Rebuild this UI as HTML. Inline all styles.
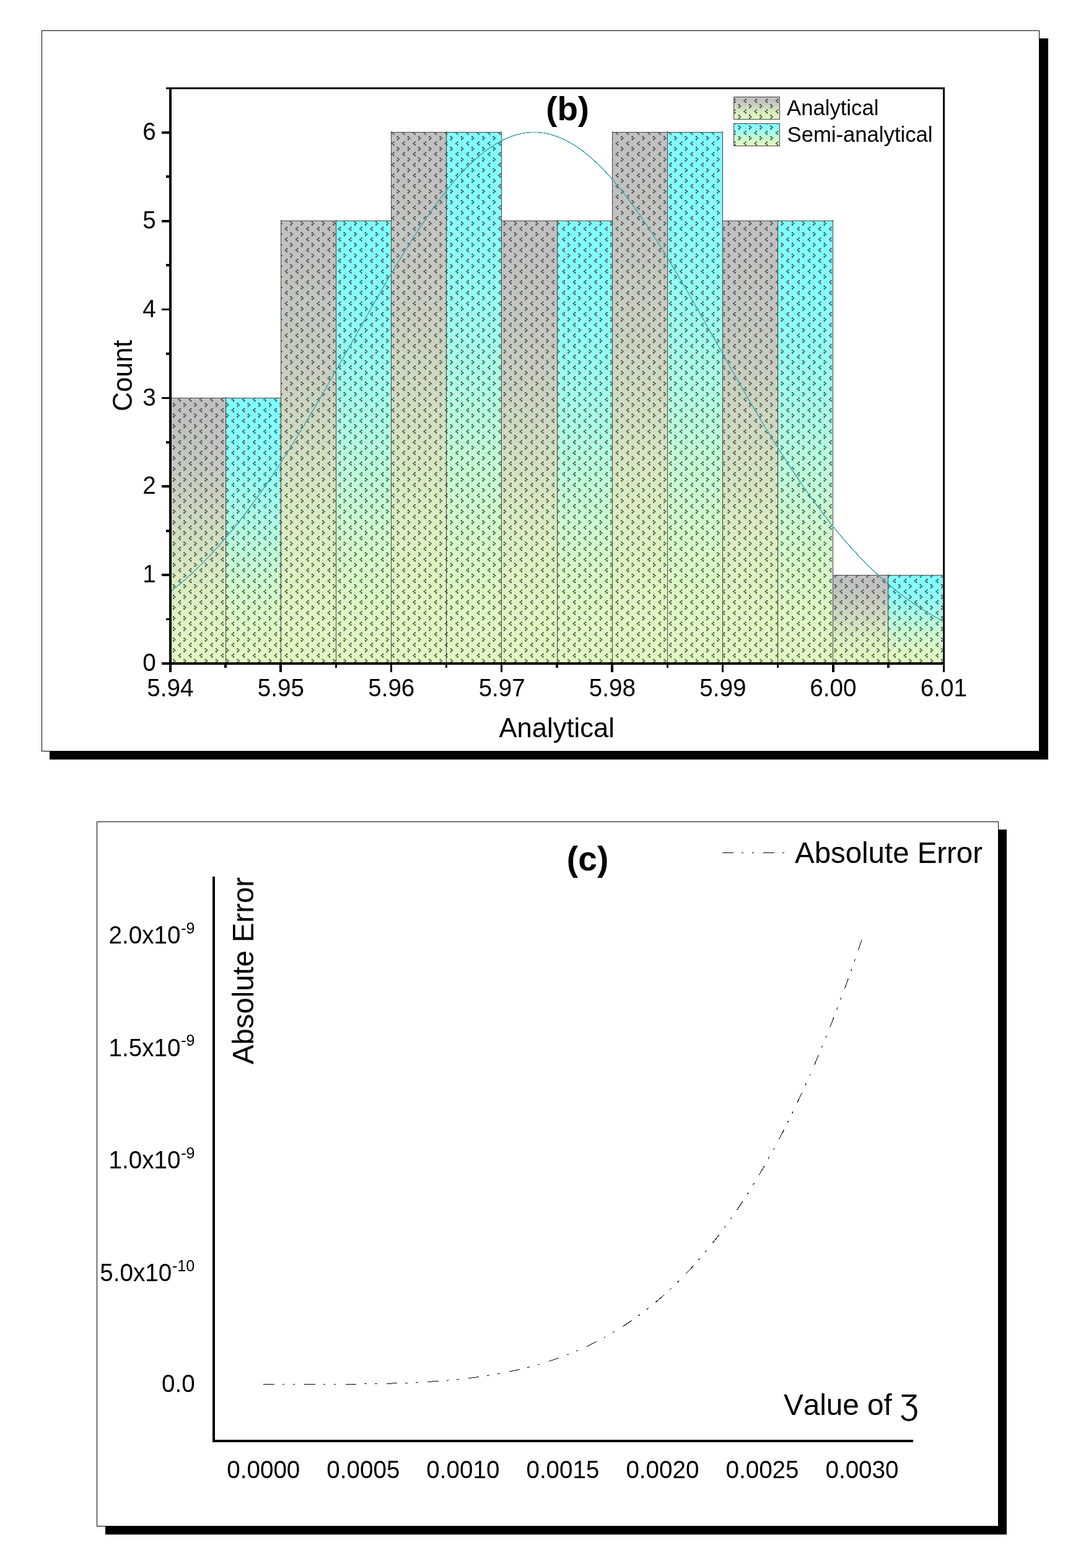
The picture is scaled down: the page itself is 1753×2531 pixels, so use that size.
<!DOCTYPE html>
<html lang="en"><head><meta charset="utf-8"><title>Histogram (b) and Absolute Error (c)</title>
<style>html,body{margin:0;padding:0;background:#fff;}body{width:1753px;height:2531px;overflow:hidden;}svg{display:block;}text{font-family:"Liberation Sans", Arial, sans-serif;fill:#000;font-kerning:none;}</style>
</head><body>
<svg width="1753" height="2531" viewBox="0 0 1753 2531">
<defs>
<linearGradient id="gG" x1="0" y1="0" x2="0" y2="1">
<stop offset="0.0000" stop-color="#c0c0c0"/>
<stop offset="0.0625" stop-color="#c0c1c0"/>
<stop offset="0.1250" stop-color="#c1c2c0"/>
<stop offset="0.1875" stop-color="#c3c5c0"/>
<stop offset="0.2500" stop-color="#c5c8c0"/>
<stop offset="0.3125" stop-color="#c7ccc0"/>
<stop offset="0.3750" stop-color="#cad1c0"/>
<stop offset="0.4375" stop-color="#cdd7c0"/>
<stop offset="0.5000" stop-color="#d0dcc0"/>
<stop offset="0.5625" stop-color="#d3e1c0"/>
<stop offset="0.6250" stop-color="#d6e7c0"/>
<stop offset="0.6875" stop-color="#d9ecc0"/>
<stop offset="0.7500" stop-color="#dbf0c0"/>
<stop offset="0.8125" stop-color="#ddf3c0"/>
<stop offset="0.8750" stop-color="#dff6c0"/>
<stop offset="0.9375" stop-color="#e0f7c0"/>
<stop offset="1.0000" stop-color="#e0f8c0"/>
</linearGradient>
<linearGradient id="gC" x1="0" y1="0" x2="0" y2="1">
<stop offset="0.0000" stop-color="#80ffff"/>
<stop offset="0.0625" stop-color="#81fffe"/>
<stop offset="0.1250" stop-color="#84fffd"/>
<stop offset="0.1875" stop-color="#88fefa"/>
<stop offset="0.2500" stop-color="#8efef6"/>
<stop offset="0.3125" stop-color="#95fdf1"/>
<stop offset="0.3750" stop-color="#9efdec"/>
<stop offset="0.4375" stop-color="#a7fce6"/>
<stop offset="0.5000" stop-color="#b0fce0"/>
<stop offset="0.5625" stop-color="#b9fbd9"/>
<stop offset="0.6250" stop-color="#c2fad3"/>
<stop offset="0.6875" stop-color="#cbface"/>
<stop offset="0.7500" stop-color="#d2f9c9"/>
<stop offset="0.8125" stop-color="#d8f9c5"/>
<stop offset="0.8750" stop-color="#dcf8c2"/>
<stop offset="0.9375" stop-color="#dff8c1"/>
<stop offset="1.0000" stop-color="#e0f8c0"/>
</linearGradient>
<pattern id="pat" x="279" y="1012" width="155" height="155" patternUnits="userSpaceOnUse">
<path fill="#38383c" d="M0.00 0.00h2.15v2.15h-2.15zM2.15 2.15h2.15v2.15h-2.15zM0.00 4.31h2.15v2.15h-2.15zM10.76 8.61h2.15v2.15h-2.15zM8.61 10.76h2.15v2.15h-2.15zM10.76 12.92h2.15v2.15h-2.15zM17.22 0.00h2.15v2.15h-2.15zM19.38 2.15h2.15v2.15h-2.15zM17.22 4.31h2.15v2.15h-2.15zM27.99 8.61h2.15v2.15h-2.15zM25.83 10.76h2.15v2.15h-2.15zM27.99 12.92h2.15v2.15h-2.15zM34.44 0.00h2.15v2.15h-2.15zM36.60 2.15h2.15v2.15h-2.15zM34.44 4.31h2.15v2.15h-2.15zM45.21 8.61h2.15v2.15h-2.15zM43.06 10.76h2.15v2.15h-2.15zM45.21 12.92h2.15v2.15h-2.15zM51.67 0.00h2.15v2.15h-2.15zM53.82 2.15h2.15v2.15h-2.15zM51.67 4.31h2.15v2.15h-2.15zM62.43 8.61h2.15v2.15h-2.15zM60.28 10.76h2.15v2.15h-2.15zM62.43 12.92h2.15v2.15h-2.15zM68.89 0.00h2.15v2.15h-2.15zM71.04 2.15h2.15v2.15h-2.15zM68.89 4.31h2.15v2.15h-2.15zM79.65 8.61h2.15v2.15h-2.15zM77.50 10.76h2.15v2.15h-2.15zM79.65 12.92h2.15v2.15h-2.15zM86.11 0.00h2.15v2.15h-2.15zM88.26 2.15h2.15v2.15h-2.15zM86.11 4.31h2.15v2.15h-2.15zM96.88 8.61h2.15v2.15h-2.15zM94.72 10.76h2.15v2.15h-2.15zM96.88 12.92h2.15v2.15h-2.15zM103.33 0.00h2.15v2.15h-2.15zM105.49 2.15h2.15v2.15h-2.15zM103.33 4.31h2.15v2.15h-2.15zM114.10 8.61h2.15v2.15h-2.15zM111.94 10.76h2.15v2.15h-2.15zM114.10 12.92h2.15v2.15h-2.15zM120.56 0.00h2.15v2.15h-2.15zM122.71 2.15h2.15v2.15h-2.15zM120.56 4.31h2.15v2.15h-2.15zM131.32 8.61h2.15v2.15h-2.15zM129.17 10.76h2.15v2.15h-2.15zM131.32 12.92h2.15v2.15h-2.15zM137.78 0.00h2.15v2.15h-2.15zM139.93 2.15h2.15v2.15h-2.15zM137.78 4.31h2.15v2.15h-2.15zM148.54 8.61h2.15v2.15h-2.15zM146.39 10.76h2.15v2.15h-2.15zM148.54 12.92h2.15v2.15h-2.15zM0.00 17.22h2.15v2.15h-2.15zM2.15 19.38h2.15v2.15h-2.15zM0.00 21.53h2.15v2.15h-2.15zM10.76 25.83h2.15v2.15h-2.15zM8.61 27.99h2.15v2.15h-2.15zM10.76 30.14h2.15v2.15h-2.15zM17.22 17.22h2.15v2.15h-2.15zM19.38 19.38h2.15v2.15h-2.15zM17.22 21.53h2.15v2.15h-2.15zM27.99 25.83h2.15v2.15h-2.15zM25.83 27.99h2.15v2.15h-2.15zM27.99 30.14h2.15v2.15h-2.15zM34.44 17.22h2.15v2.15h-2.15zM36.60 19.38h2.15v2.15h-2.15zM34.44 21.53h2.15v2.15h-2.15zM45.21 25.83h2.15v2.15h-2.15zM43.06 27.99h2.15v2.15h-2.15zM45.21 30.14h2.15v2.15h-2.15zM51.67 17.22h2.15v2.15h-2.15zM53.82 19.38h2.15v2.15h-2.15zM51.67 21.53h2.15v2.15h-2.15zM62.43 25.83h2.15v2.15h-2.15zM60.28 27.99h2.15v2.15h-2.15zM62.43 30.14h2.15v2.15h-2.15zM68.89 17.22h2.15v2.15h-2.15zM71.04 19.38h2.15v2.15h-2.15zM68.89 21.53h2.15v2.15h-2.15zM79.65 25.83h2.15v2.15h-2.15zM77.50 27.99h2.15v2.15h-2.15zM79.65 30.14h2.15v2.15h-2.15zM86.11 17.22h2.15v2.15h-2.15zM88.26 19.38h2.15v2.15h-2.15zM86.11 21.53h2.15v2.15h-2.15zM96.88 25.83h2.15v2.15h-2.15zM94.72 27.99h2.15v2.15h-2.15zM96.88 30.14h2.15v2.15h-2.15zM103.33 17.22h2.15v2.15h-2.15zM105.49 19.38h2.15v2.15h-2.15zM103.33 21.53h2.15v2.15h-2.15zM114.10 25.83h2.15v2.15h-2.15zM111.94 27.99h2.15v2.15h-2.15zM114.10 30.14h2.15v2.15h-2.15zM120.56 17.22h2.15v2.15h-2.15zM122.71 19.38h2.15v2.15h-2.15zM120.56 21.53h2.15v2.15h-2.15zM131.32 25.83h2.15v2.15h-2.15zM129.17 27.99h2.15v2.15h-2.15zM131.32 30.14h2.15v2.15h-2.15zM137.78 17.22h2.15v2.15h-2.15zM139.93 19.38h2.15v2.15h-2.15zM137.78 21.53h2.15v2.15h-2.15zM148.54 25.83h2.15v2.15h-2.15zM146.39 27.99h2.15v2.15h-2.15zM148.54 30.14h2.15v2.15h-2.15zM0.00 34.44h2.15v2.15h-2.15zM2.15 36.60h2.15v2.15h-2.15zM0.00 38.75h2.15v2.15h-2.15zM10.76 43.06h2.15v2.15h-2.15zM8.61 45.21h2.15v2.15h-2.15zM10.76 47.36h2.15v2.15h-2.15zM17.22 34.44h2.15v2.15h-2.15zM19.38 36.60h2.15v2.15h-2.15zM17.22 38.75h2.15v2.15h-2.15zM27.99 43.06h2.15v2.15h-2.15zM25.83 45.21h2.15v2.15h-2.15zM27.99 47.36h2.15v2.15h-2.15zM34.44 34.44h2.15v2.15h-2.15zM36.60 36.60h2.15v2.15h-2.15zM34.44 38.75h2.15v2.15h-2.15zM45.21 43.06h2.15v2.15h-2.15zM43.06 45.21h2.15v2.15h-2.15zM45.21 47.36h2.15v2.15h-2.15zM51.67 34.44h2.15v2.15h-2.15zM53.82 36.60h2.15v2.15h-2.15zM51.67 38.75h2.15v2.15h-2.15zM62.43 43.06h2.15v2.15h-2.15zM60.28 45.21h2.15v2.15h-2.15zM62.43 47.36h2.15v2.15h-2.15zM68.89 34.44h2.15v2.15h-2.15zM71.04 36.60h2.15v2.15h-2.15zM68.89 38.75h2.15v2.15h-2.15zM79.65 43.06h2.15v2.15h-2.15zM77.50 45.21h2.15v2.15h-2.15zM79.65 47.36h2.15v2.15h-2.15zM86.11 34.44h2.15v2.15h-2.15zM88.26 36.60h2.15v2.15h-2.15zM86.11 38.75h2.15v2.15h-2.15zM96.88 43.06h2.15v2.15h-2.15zM94.72 45.21h2.15v2.15h-2.15zM96.88 47.36h2.15v2.15h-2.15zM103.33 34.44h2.15v2.15h-2.15zM105.49 36.60h2.15v2.15h-2.15zM103.33 38.75h2.15v2.15h-2.15zM114.10 43.06h2.15v2.15h-2.15zM111.94 45.21h2.15v2.15h-2.15zM114.10 47.36h2.15v2.15h-2.15zM120.56 34.44h2.15v2.15h-2.15zM122.71 36.60h2.15v2.15h-2.15zM120.56 38.75h2.15v2.15h-2.15zM131.32 43.06h2.15v2.15h-2.15zM129.17 45.21h2.15v2.15h-2.15zM131.32 47.36h2.15v2.15h-2.15zM137.78 34.44h2.15v2.15h-2.15zM139.93 36.60h2.15v2.15h-2.15zM137.78 38.75h2.15v2.15h-2.15zM148.54 43.06h2.15v2.15h-2.15zM146.39 45.21h2.15v2.15h-2.15zM148.54 47.36h2.15v2.15h-2.15zM0.00 51.67h2.15v2.15h-2.15zM2.15 53.82h2.15v2.15h-2.15zM0.00 55.97h2.15v2.15h-2.15zM10.76 60.28h2.15v2.15h-2.15zM8.61 62.43h2.15v2.15h-2.15zM10.76 64.58h2.15v2.15h-2.15zM17.22 51.67h2.15v2.15h-2.15zM19.38 53.82h2.15v2.15h-2.15zM17.22 55.97h2.15v2.15h-2.15zM27.99 60.28h2.15v2.15h-2.15zM25.83 62.43h2.15v2.15h-2.15zM27.99 64.58h2.15v2.15h-2.15zM34.44 51.67h2.15v2.15h-2.15zM36.60 53.82h2.15v2.15h-2.15zM34.44 55.97h2.15v2.15h-2.15zM45.21 60.28h2.15v2.15h-2.15zM43.06 62.43h2.15v2.15h-2.15zM45.21 64.58h2.15v2.15h-2.15zM51.67 51.67h2.15v2.15h-2.15zM53.82 53.82h2.15v2.15h-2.15zM51.67 55.97h2.15v2.15h-2.15zM62.43 60.28h2.15v2.15h-2.15zM60.28 62.43h2.15v2.15h-2.15zM62.43 64.58h2.15v2.15h-2.15zM68.89 51.67h2.15v2.15h-2.15zM71.04 53.82h2.15v2.15h-2.15zM68.89 55.97h2.15v2.15h-2.15zM79.65 60.28h2.15v2.15h-2.15zM77.50 62.43h2.15v2.15h-2.15zM79.65 64.58h2.15v2.15h-2.15zM86.11 51.67h2.15v2.15h-2.15zM88.26 53.82h2.15v2.15h-2.15zM86.11 55.97h2.15v2.15h-2.15zM96.88 60.28h2.15v2.15h-2.15zM94.72 62.43h2.15v2.15h-2.15zM96.88 64.58h2.15v2.15h-2.15zM103.33 51.67h2.15v2.15h-2.15zM105.49 53.82h2.15v2.15h-2.15zM103.33 55.97h2.15v2.15h-2.15zM114.10 60.28h2.15v2.15h-2.15zM111.94 62.43h2.15v2.15h-2.15zM114.10 64.58h2.15v2.15h-2.15zM120.56 51.67h2.15v2.15h-2.15zM122.71 53.82h2.15v2.15h-2.15zM120.56 55.97h2.15v2.15h-2.15zM131.32 60.28h2.15v2.15h-2.15zM129.17 62.43h2.15v2.15h-2.15zM131.32 64.58h2.15v2.15h-2.15zM137.78 51.67h2.15v2.15h-2.15zM139.93 53.82h2.15v2.15h-2.15zM137.78 55.97h2.15v2.15h-2.15zM148.54 60.28h2.15v2.15h-2.15zM146.39 62.43h2.15v2.15h-2.15zM148.54 64.58h2.15v2.15h-2.15zM0.00 68.89h2.15v2.15h-2.15zM2.15 71.04h2.15v2.15h-2.15zM0.00 73.19h2.15v2.15h-2.15zM10.76 77.50h2.15v2.15h-2.15zM8.61 79.65h2.15v2.15h-2.15zM10.76 81.81h2.15v2.15h-2.15zM17.22 68.89h2.15v2.15h-2.15zM19.38 71.04h2.15v2.15h-2.15zM17.22 73.19h2.15v2.15h-2.15zM27.99 77.50h2.15v2.15h-2.15zM25.83 79.65h2.15v2.15h-2.15zM27.99 81.81h2.15v2.15h-2.15zM34.44 68.89h2.15v2.15h-2.15zM36.60 71.04h2.15v2.15h-2.15zM34.44 73.19h2.15v2.15h-2.15zM45.21 77.50h2.15v2.15h-2.15zM43.06 79.65h2.15v2.15h-2.15zM45.21 81.81h2.15v2.15h-2.15zM51.67 68.89h2.15v2.15h-2.15zM53.82 71.04h2.15v2.15h-2.15zM51.67 73.19h2.15v2.15h-2.15zM62.43 77.50h2.15v2.15h-2.15zM60.28 79.65h2.15v2.15h-2.15zM62.43 81.81h2.15v2.15h-2.15zM68.89 68.89h2.15v2.15h-2.15zM71.04 71.04h2.15v2.15h-2.15zM68.89 73.19h2.15v2.15h-2.15zM79.65 77.50h2.15v2.15h-2.15zM77.50 79.65h2.15v2.15h-2.15zM79.65 81.81h2.15v2.15h-2.15zM86.11 68.89h2.15v2.15h-2.15zM88.26 71.04h2.15v2.15h-2.15zM86.11 73.19h2.15v2.15h-2.15zM96.88 77.50h2.15v2.15h-2.15zM94.72 79.65h2.15v2.15h-2.15zM96.88 81.81h2.15v2.15h-2.15zM103.33 68.89h2.15v2.15h-2.15zM105.49 71.04h2.15v2.15h-2.15zM103.33 73.19h2.15v2.15h-2.15zM114.10 77.50h2.15v2.15h-2.15zM111.94 79.65h2.15v2.15h-2.15zM114.10 81.81h2.15v2.15h-2.15zM120.56 68.89h2.15v2.15h-2.15zM122.71 71.04h2.15v2.15h-2.15zM120.56 73.19h2.15v2.15h-2.15zM131.32 77.50h2.15v2.15h-2.15zM129.17 79.65h2.15v2.15h-2.15zM131.32 81.81h2.15v2.15h-2.15zM137.78 68.89h2.15v2.15h-2.15zM139.93 71.04h2.15v2.15h-2.15zM137.78 73.19h2.15v2.15h-2.15zM148.54 77.50h2.15v2.15h-2.15zM146.39 79.65h2.15v2.15h-2.15zM148.54 81.81h2.15v2.15h-2.15zM0.00 86.11h2.15v2.15h-2.15zM2.15 88.26h2.15v2.15h-2.15zM0.00 90.42h2.15v2.15h-2.15zM10.76 94.72h2.15v2.15h-2.15zM8.61 96.88h2.15v2.15h-2.15zM10.76 99.03h2.15v2.15h-2.15zM17.22 86.11h2.15v2.15h-2.15zM19.38 88.26h2.15v2.15h-2.15zM17.22 90.42h2.15v2.15h-2.15zM27.99 94.72h2.15v2.15h-2.15zM25.83 96.88h2.15v2.15h-2.15zM27.99 99.03h2.15v2.15h-2.15zM34.44 86.11h2.15v2.15h-2.15zM36.60 88.26h2.15v2.15h-2.15zM34.44 90.42h2.15v2.15h-2.15zM45.21 94.72h2.15v2.15h-2.15zM43.06 96.88h2.15v2.15h-2.15zM45.21 99.03h2.15v2.15h-2.15zM51.67 86.11h2.15v2.15h-2.15zM53.82 88.26h2.15v2.15h-2.15zM51.67 90.42h2.15v2.15h-2.15zM62.43 94.72h2.15v2.15h-2.15zM60.28 96.88h2.15v2.15h-2.15zM62.43 99.03h2.15v2.15h-2.15zM68.89 86.11h2.15v2.15h-2.15zM71.04 88.26h2.15v2.15h-2.15zM68.89 90.42h2.15v2.15h-2.15zM79.65 94.72h2.15v2.15h-2.15zM77.50 96.88h2.15v2.15h-2.15zM79.65 99.03h2.15v2.15h-2.15zM86.11 86.11h2.15v2.15h-2.15zM88.26 88.26h2.15v2.15h-2.15zM86.11 90.42h2.15v2.15h-2.15zM96.88 94.72h2.15v2.15h-2.15zM94.72 96.88h2.15v2.15h-2.15zM96.88 99.03h2.15v2.15h-2.15zM103.33 86.11h2.15v2.15h-2.15zM105.49 88.26h2.15v2.15h-2.15zM103.33 90.42h2.15v2.15h-2.15zM114.10 94.72h2.15v2.15h-2.15zM111.94 96.88h2.15v2.15h-2.15zM114.10 99.03h2.15v2.15h-2.15zM120.56 86.11h2.15v2.15h-2.15zM122.71 88.26h2.15v2.15h-2.15zM120.56 90.42h2.15v2.15h-2.15zM131.32 94.72h2.15v2.15h-2.15zM129.17 96.88h2.15v2.15h-2.15zM131.32 99.03h2.15v2.15h-2.15zM137.78 86.11h2.15v2.15h-2.15zM139.93 88.26h2.15v2.15h-2.15zM137.78 90.42h2.15v2.15h-2.15zM148.54 94.72h2.15v2.15h-2.15zM146.39 96.88h2.15v2.15h-2.15zM148.54 99.03h2.15v2.15h-2.15zM0.00 103.33h2.15v2.15h-2.15zM2.15 105.49h2.15v2.15h-2.15zM0.00 107.64h2.15v2.15h-2.15zM10.76 111.94h2.15v2.15h-2.15zM8.61 114.10h2.15v2.15h-2.15zM10.76 116.25h2.15v2.15h-2.15zM17.22 103.33h2.15v2.15h-2.15zM19.38 105.49h2.15v2.15h-2.15zM17.22 107.64h2.15v2.15h-2.15zM27.99 111.94h2.15v2.15h-2.15zM25.83 114.10h2.15v2.15h-2.15zM27.99 116.25h2.15v2.15h-2.15zM34.44 103.33h2.15v2.15h-2.15zM36.60 105.49h2.15v2.15h-2.15zM34.44 107.64h2.15v2.15h-2.15zM45.21 111.94h2.15v2.15h-2.15zM43.06 114.10h2.15v2.15h-2.15zM45.21 116.25h2.15v2.15h-2.15zM51.67 103.33h2.15v2.15h-2.15zM53.82 105.49h2.15v2.15h-2.15zM51.67 107.64h2.15v2.15h-2.15zM62.43 111.94h2.15v2.15h-2.15zM60.28 114.10h2.15v2.15h-2.15zM62.43 116.25h2.15v2.15h-2.15zM68.89 103.33h2.15v2.15h-2.15zM71.04 105.49h2.15v2.15h-2.15zM68.89 107.64h2.15v2.15h-2.15zM79.65 111.94h2.15v2.15h-2.15zM77.50 114.10h2.15v2.15h-2.15zM79.65 116.25h2.15v2.15h-2.15zM86.11 103.33h2.15v2.15h-2.15zM88.26 105.49h2.15v2.15h-2.15zM86.11 107.64h2.15v2.15h-2.15zM96.88 111.94h2.15v2.15h-2.15zM94.72 114.10h2.15v2.15h-2.15zM96.88 116.25h2.15v2.15h-2.15zM103.33 103.33h2.15v2.15h-2.15zM105.49 105.49h2.15v2.15h-2.15zM103.33 107.64h2.15v2.15h-2.15zM114.10 111.94h2.15v2.15h-2.15zM111.94 114.10h2.15v2.15h-2.15zM114.10 116.25h2.15v2.15h-2.15zM120.56 103.33h2.15v2.15h-2.15zM122.71 105.49h2.15v2.15h-2.15zM120.56 107.64h2.15v2.15h-2.15zM131.32 111.94h2.15v2.15h-2.15zM129.17 114.10h2.15v2.15h-2.15zM131.32 116.25h2.15v2.15h-2.15zM137.78 103.33h2.15v2.15h-2.15zM139.93 105.49h2.15v2.15h-2.15zM137.78 107.64h2.15v2.15h-2.15zM148.54 111.94h2.15v2.15h-2.15zM146.39 114.10h2.15v2.15h-2.15zM148.54 116.25h2.15v2.15h-2.15zM0.00 120.56h2.15v2.15h-2.15zM2.15 122.71h2.15v2.15h-2.15zM0.00 124.86h2.15v2.15h-2.15zM10.76 129.17h2.15v2.15h-2.15zM8.61 131.32h2.15v2.15h-2.15zM10.76 133.47h2.15v2.15h-2.15zM17.22 120.56h2.15v2.15h-2.15zM19.38 122.71h2.15v2.15h-2.15zM17.22 124.86h2.15v2.15h-2.15zM27.99 129.17h2.15v2.15h-2.15zM25.83 131.32h2.15v2.15h-2.15zM27.99 133.47h2.15v2.15h-2.15zM34.44 120.56h2.15v2.15h-2.15zM36.60 122.71h2.15v2.15h-2.15zM34.44 124.86h2.15v2.15h-2.15zM45.21 129.17h2.15v2.15h-2.15zM43.06 131.32h2.15v2.15h-2.15zM45.21 133.47h2.15v2.15h-2.15zM51.67 120.56h2.15v2.15h-2.15zM53.82 122.71h2.15v2.15h-2.15zM51.67 124.86h2.15v2.15h-2.15zM62.43 129.17h2.15v2.15h-2.15zM60.28 131.32h2.15v2.15h-2.15zM62.43 133.47h2.15v2.15h-2.15zM68.89 120.56h2.15v2.15h-2.15zM71.04 122.71h2.15v2.15h-2.15zM68.89 124.86h2.15v2.15h-2.15zM79.65 129.17h2.15v2.15h-2.15zM77.50 131.32h2.15v2.15h-2.15zM79.65 133.47h2.15v2.15h-2.15zM86.11 120.56h2.15v2.15h-2.15zM88.26 122.71h2.15v2.15h-2.15zM86.11 124.86h2.15v2.15h-2.15zM96.88 129.17h2.15v2.15h-2.15zM94.72 131.32h2.15v2.15h-2.15zM96.88 133.47h2.15v2.15h-2.15zM103.33 120.56h2.15v2.15h-2.15zM105.49 122.71h2.15v2.15h-2.15zM103.33 124.86h2.15v2.15h-2.15zM114.10 129.17h2.15v2.15h-2.15zM111.94 131.32h2.15v2.15h-2.15zM114.10 133.47h2.15v2.15h-2.15zM120.56 120.56h2.15v2.15h-2.15zM122.71 122.71h2.15v2.15h-2.15zM120.56 124.86h2.15v2.15h-2.15zM131.32 129.17h2.15v2.15h-2.15zM129.17 131.32h2.15v2.15h-2.15zM131.32 133.47h2.15v2.15h-2.15zM137.78 120.56h2.15v2.15h-2.15zM139.93 122.71h2.15v2.15h-2.15zM137.78 124.86h2.15v2.15h-2.15zM148.54 129.17h2.15v2.15h-2.15zM146.39 131.32h2.15v2.15h-2.15zM148.54 133.47h2.15v2.15h-2.15zM0.00 137.78h2.15v2.15h-2.15zM2.15 139.93h2.15v2.15h-2.15zM0.00 142.08h2.15v2.15h-2.15zM10.76 146.39h2.15v2.15h-2.15zM8.61 148.54h2.15v2.15h-2.15zM10.76 150.69h2.15v2.15h-2.15zM17.22 137.78h2.15v2.15h-2.15zM19.38 139.93h2.15v2.15h-2.15zM17.22 142.08h2.15v2.15h-2.15zM27.99 146.39h2.15v2.15h-2.15zM25.83 148.54h2.15v2.15h-2.15zM27.99 150.69h2.15v2.15h-2.15zM34.44 137.78h2.15v2.15h-2.15zM36.60 139.93h2.15v2.15h-2.15zM34.44 142.08h2.15v2.15h-2.15zM45.21 146.39h2.15v2.15h-2.15zM43.06 148.54h2.15v2.15h-2.15zM45.21 150.69h2.15v2.15h-2.15zM51.67 137.78h2.15v2.15h-2.15zM53.82 139.93h2.15v2.15h-2.15zM51.67 142.08h2.15v2.15h-2.15zM62.43 146.39h2.15v2.15h-2.15zM60.28 148.54h2.15v2.15h-2.15zM62.43 150.69h2.15v2.15h-2.15zM68.89 137.78h2.15v2.15h-2.15zM71.04 139.93h2.15v2.15h-2.15zM68.89 142.08h2.15v2.15h-2.15zM79.65 146.39h2.15v2.15h-2.15zM77.50 148.54h2.15v2.15h-2.15zM79.65 150.69h2.15v2.15h-2.15zM86.11 137.78h2.15v2.15h-2.15zM88.26 139.93h2.15v2.15h-2.15zM86.11 142.08h2.15v2.15h-2.15zM96.88 146.39h2.15v2.15h-2.15zM94.72 148.54h2.15v2.15h-2.15zM96.88 150.69h2.15v2.15h-2.15zM103.33 137.78h2.15v2.15h-2.15zM105.49 139.93h2.15v2.15h-2.15zM103.33 142.08h2.15v2.15h-2.15zM114.10 146.39h2.15v2.15h-2.15zM111.94 148.54h2.15v2.15h-2.15zM114.10 150.69h2.15v2.15h-2.15zM120.56 137.78h2.15v2.15h-2.15zM122.71 139.93h2.15v2.15h-2.15zM120.56 142.08h2.15v2.15h-2.15zM131.32 146.39h2.15v2.15h-2.15zM129.17 148.54h2.15v2.15h-2.15zM131.32 150.69h2.15v2.15h-2.15zM137.78 137.78h2.15v2.15h-2.15zM139.93 139.93h2.15v2.15h-2.15zM137.78 142.08h2.15v2.15h-2.15zM148.54 146.39h2.15v2.15h-2.15zM146.39 148.54h2.15v2.15h-2.15zM148.54 150.69h2.15v2.15h-2.15z"/>
</pattern>
</defs>
<rect x="0" y="0" width="1753" height="2531" fill="#fff"/>
<rect x="80" y="62" width="1612" height="1164" fill="#000" shape-rendering="crispEdges"/>
<rect x="67.5" y="49.5" width="1610" height="1163" fill="#fff" stroke="#000" stroke-width="1" shape-rendering="crispEdges"/>
<rect x="170" y="1339" width="1455" height="1138" fill="#000" shape-rendering="crispEdges"/>
<rect x="156.5" y="1326.5" width="1455" height="1137" fill="#fff" stroke="#000" stroke-width="1" shape-rendering="crispEdges"/>
<g shape-rendering="crispEdges">
<rect x="275" y="642" width="89" height="428" fill="url(#gG)" />
<rect x="275" y="642" width="89" height="428" fill="url(#pat)" shape-rendering="auto"/>
<rect x="364" y="642" width="89" height="428" fill="url(#gC)" />
<rect x="364" y="642" width="89" height="428" fill="url(#pat)" shape-rendering="auto"/>
<rect x="453" y="356" width="89" height="714" fill="url(#gG)" />
<rect x="453" y="356" width="89" height="714" fill="url(#pat)" shape-rendering="auto"/>
<rect x="542" y="356" width="89" height="714" fill="url(#gC)" />
<rect x="542" y="356" width="89" height="714" fill="url(#pat)" shape-rendering="auto"/>
<rect x="631" y="213" width="89" height="857" fill="url(#gG)" />
<rect x="631" y="213" width="89" height="857" fill="url(#pat)" shape-rendering="auto"/>
<rect x="720" y="213" width="89" height="857" fill="url(#gC)" />
<rect x="720" y="213" width="89" height="857" fill="url(#pat)" shape-rendering="auto"/>
<rect x="809" y="356" width="90" height="714" fill="url(#gG)" />
<rect x="809" y="356" width="90" height="714" fill="url(#pat)" shape-rendering="auto"/>
<rect x="899" y="356" width="89" height="714" fill="url(#gC)" />
<rect x="899" y="356" width="89" height="714" fill="url(#pat)" shape-rendering="auto"/>
<rect x="988" y="213" width="89" height="857" fill="url(#gG)" />
<rect x="988" y="213" width="89" height="857" fill="url(#pat)" shape-rendering="auto"/>
<rect x="1077" y="213" width="89" height="857" fill="url(#gC)" />
<rect x="1077" y="213" width="89" height="857" fill="url(#pat)" shape-rendering="auto"/>
<rect x="1166" y="356" width="89" height="714" fill="url(#gG)" />
<rect x="1166" y="356" width="89" height="714" fill="url(#pat)" shape-rendering="auto"/>
<rect x="1255" y="356" width="89" height="714" fill="url(#gC)" />
<rect x="1255" y="356" width="89" height="714" fill="url(#pat)" shape-rendering="auto"/>
<rect x="1344" y="928" width="89" height="142" fill="url(#gG)" />
<rect x="1344" y="928" width="89" height="142" fill="url(#pat)" shape-rendering="auto"/>
<rect x="1433" y="928" width="90" height="142" fill="url(#gC)" />
<rect x="1433" y="928" width="90" height="142" fill="url(#pat)" shape-rendering="auto"/>
<rect x="275" y="642" width="90" height="1" fill="#444444" />
<rect x="275" y="641" width="1" height="429" fill="#444444" />
<rect x="364" y="641" width="1" height="429" fill="#444444" />
<rect x="364" y="642" width="90" height="1" fill="#444444" />
<rect x="364" y="641" width="1" height="429" fill="#444444" />
<rect x="453" y="641" width="1" height="429" fill="#444444" />
<rect x="453" y="356" width="90" height="1" fill="#444444" />
<rect x="453" y="355" width="1" height="715" fill="#444444" />
<rect x="542" y="355" width="1" height="715" fill="#444444" />
<rect x="542" y="356" width="90" height="1" fill="#444444" />
<rect x="542" y="355" width="1" height="715" fill="#444444" />
<rect x="631" y="355" width="1" height="715" fill="#444444" />
<rect x="631" y="213" width="90" height="1" fill="#444444" />
<rect x="631" y="212" width="1" height="858" fill="#444444" />
<rect x="720" y="212" width="1" height="858" fill="#444444" />
<rect x="720" y="213" width="90" height="1" fill="#444444" />
<rect x="720" y="212" width="1" height="858" fill="#444444" />
<rect x="809" y="212" width="1" height="858" fill="#444444" />
<rect x="809" y="356" width="91" height="1" fill="#444444" />
<rect x="809" y="355" width="1" height="715" fill="#444444" />
<rect x="899" y="355" width="1" height="715" fill="#444444" />
<rect x="899" y="356" width="90" height="1" fill="#444444" />
<rect x="899" y="355" width="1" height="715" fill="#444444" />
<rect x="988" y="355" width="1" height="715" fill="#444444" />
<rect x="988" y="213" width="90" height="1" fill="#444444" />
<rect x="988" y="212" width="1" height="858" fill="#444444" />
<rect x="1077" y="212" width="1" height="858" fill="#444444" />
<rect x="1077" y="213" width="90" height="1" fill="#444444" />
<rect x="1077" y="212" width="1" height="858" fill="#444444" />
<rect x="1166" y="212" width="1" height="858" fill="#444444" />
<rect x="1166" y="356" width="90" height="1" fill="#444444" />
<rect x="1166" y="355" width="1" height="715" fill="#444444" />
<rect x="1255" y="355" width="1" height="715" fill="#444444" />
<rect x="1255" y="356" width="90" height="1" fill="#444444" />
<rect x="1255" y="355" width="1" height="715" fill="#444444" />
<rect x="1344" y="355" width="1" height="715" fill="#444444" />
<rect x="1344" y="928" width="90" height="1" fill="#444444" />
<rect x="1344" y="927" width="1" height="143" fill="#444444" />
<rect x="1433" y="927" width="1" height="143" fill="#444444" />
<rect x="1433" y="928" width="91" height="1" fill="#444444" />
<rect x="1433" y="927" width="1" height="143" fill="#444444" />
<rect x="1523" y="927" width="1" height="143" fill="#444444" />
</g>
<polyline fill="none" stroke="#48aab0" stroke-width="1.5" shape-rendering="crispEdges" points="275.0,955.4 279.2,952.1 283.3,948.7 287.5,945.2 291.6,941.7 295.8,938.1 300.0,934.4 304.1,930.7 308.3,926.9 312.5,923.0 316.6,919.0 320.8,915.0 324.9,910.8 329.1,906.6 333.3,902.4 337.4,898.0 341.6,893.6 345.7,889.1 349.9,884.5 354.1,879.9 358.2,875.1 362.4,870.3 366.5,865.4 370.7,860.5 374.9,855.4 379.0,850.3 383.2,845.1 387.4,839.9 391.5,834.5 395.7,829.1 399.8,823.6 404.0,818.0 408.2,812.4 412.3,806.7 416.5,800.9 420.6,795.0 424.8,789.1 429.0,783.1 433.1,777.0 437.3,770.9 441.5,764.7 445.6,758.4 449.8,752.1 453.9,745.7 458.1,739.2 462.3,732.7 466.4,726.2 470.6,719.5 474.7,712.8 478.9,706.1 483.1,699.3 487.2,692.5 491.4,685.6 495.5,678.6 499.7,671.6 503.9,664.6 508.0,657.5 512.2,650.4 516.4,643.3 520.5,636.1 524.7,628.9 528.8,621.7 533.0,614.4 537.2,607.1 541.3,599.8 545.5,592.5 549.6,585.1 553.8,577.8 558.0,570.4 562.1,563.1 566.3,555.7 570.4,548.3 574.6,540.9 578.8,533.5 582.9,526.2 587.1,518.8 591.3,511.5 595.4,504.1 599.6,496.8 603.7,489.5 607.9,482.3 612.1,475.0 616.2,467.8 620.4,460.7 624.5,453.6 628.7,446.5 632.9,439.4 637.0,432.4 641.2,425.5 645.4,418.6 649.5,411.8 653.7,405.1 657.8,398.4 662.0,391.8 666.2,385.2 670.3,378.7 674.5,372.4 678.6,366.0 682.8,359.8 687.0,353.7 691.1,347.7 695.3,341.7 699.4,335.9 703.6,330.1 707.8,324.5 711.9,319.0 716.1,313.6 720.3,308.3 724.4,303.1 728.6,298.0 732.7,293.1 736.9,288.3 741.1,283.6 745.2,279.0 749.4,274.6 753.5,270.4 757.7,266.2 761.9,262.2 766.0,258.4 770.2,254.7 774.4,251.1 778.5,247.7 782.7,244.4 786.8,241.3 791.0,238.4 795.2,235.6 799.3,233.0 803.5,230.5 807.6,228.2 811.8,226.1 816.0,224.1 820.1,222.3 824.3,220.6 828.4,219.2 832.6,217.8 836.8,216.7 840.9,215.8 845.1,215.0 849.3,214.3 853.4,213.9 857.6,213.6 861.7,213.5 865.9,213.6 870.1,213.8 874.2,214.3 878.4,214.8 882.5,215.6 886.7,216.5 890.9,217.6 895.0,218.9 899.2,220.4 903.4,222.0 907.5,223.8 911.7,225.7 915.8,227.8 920.0,230.1 924.2,232.5 928.3,235.1 932.5,237.9 936.6,240.8 940.8,243.9 945.0,247.1 949.1,250.5 953.3,254.0 957.4,257.7 961.6,261.5 965.8,265.5 969.9,269.6 974.1,273.9 978.3,278.3 982.4,282.8 986.6,287.5 990.7,292.3 994.9,297.2 999.1,302.2 1003.2,307.4 1007.4,312.7 1011.5,318.0 1015.7,323.5 1019.9,329.2 1024.0,334.9 1028.2,340.7 1032.4,346.6 1036.5,352.7 1040.7,358.8 1044.8,365.0 1049.0,371.3 1053.2,377.6 1057.3,384.1 1061.5,390.6 1065.6,397.2 1069.8,403.9 1074.0,410.7 1078.1,417.5 1082.3,424.3 1086.4,431.3 1090.6,438.2 1094.8,445.3 1098.9,452.3 1103.1,459.5 1107.3,466.6 1111.4,473.8 1115.6,481.0 1119.7,488.3 1123.9,495.6 1128.1,502.9 1132.2,510.2 1136.4,517.5 1140.5,524.9 1144.7,532.3 1148.9,539.6 1153.0,547.0 1157.2,554.4 1161.3,561.8 1165.5,569.2 1169.7,576.5 1173.8,583.9 1178.0,591.2 1182.2,598.6 1186.3,605.9 1190.5,613.2 1194.6,620.4 1198.8,627.7 1203.0,634.9 1207.1,642.1 1211.3,649.2 1215.4,656.3 1219.6,663.4 1223.8,670.4 1227.9,677.4 1232.1,684.4 1236.3,691.3 1240.4,698.1 1244.6,704.9 1248.7,711.7 1252.9,718.4 1257.1,725.0 1261.2,731.6 1265.4,738.1 1269.5,744.6 1273.7,751.0 1277.9,757.3 1282.0,763.6 1286.2,769.8 1290.3,776.0 1294.5,782.1 1298.7,788.1 1302.8,794.0 1307.0,799.9 1311.2,805.7 1315.3,811.4 1319.5,817.1 1323.6,822.6 1327.8,828.2 1332.0,833.6 1336.1,838.9 1340.3,844.2 1344.4,849.4 1348.6,854.6 1352.8,859.6 1356.9,864.6 1361.1,869.5 1365.3,874.3 1369.4,879.1 1373.6,883.7 1377.7,888.3 1381.9,892.8 1386.1,897.3 1390.2,901.6 1394.4,905.9 1398.5,910.1 1402.7,914.3 1406.9,918.3 1411.0,922.3 1415.2,926.2 1419.3,930.0 1423.5,933.8 1427.7,937.5 1431.8,941.1 1436.0,944.6 1440.2,948.1 1444.3,951.5 1448.5,954.8 1452.6,958.1 1456.8,961.2 1461.0,964.4 1465.1,967.4 1469.3,970.4 1473.4,973.3 1477.6,976.1 1481.8,978.9 1485.9,981.6 1490.1,984.3 1494.3,986.9 1498.4,989.4 1502.6,991.9 1506.7,994.3 1510.9,996.7 1515.1,998.9 1519.2,1001.2 1523.4,1003.4"/>
<g shape-rendering="crispEdges" fill="#000">
<rect x="273" y="141" width="4" height="944" fill="#000" />
<rect x="268" y="141" width="1257" height="3" fill="#000" />
<rect x="1522" y="141" width="3" height="944" fill="#000" />
<rect x="261" y="1069" width="1264" height="4" fill="#000" />
<rect x="261" y="1069.05" width="12" height="3.75" fill="#000" />
<rect x="261" y="926.22" width="12" height="3.75" fill="#000" />
<rect x="261" y="783.39" width="12" height="3.75" fill="#000" />
<rect x="261" y="640.56" width="12" height="3.75" fill="#000" />
<rect x="261" y="497.73" width="12" height="3.75" fill="#000" />
<rect x="261" y="354.9" width="12" height="3.75" fill="#000" />
<rect x="261" y="212.07" width="12" height="3.75" fill="#000" />
<rect x="268" y="997.635" width="5" height="3.75" fill="#000" />
<rect x="268" y="854.805" width="5" height="3.75" fill="#000" />
<rect x="268" y="711.975" width="5" height="3.75" fill="#000" />
<rect x="268" y="569.145" width="5" height="3.75" fill="#000" />
<rect x="268" y="426.315" width="5" height="3.75" fill="#000" />
<rect x="268" y="283.485" width="5" height="3.75" fill="#000" />
<rect x="451.41" y="1073" width="3.3" height="12" fill="#000" />
<rect x="629.77" y="1073" width="3.3" height="12" fill="#000" />
<rect x="808.13" y="1073" width="3.3" height="12" fill="#000" />
<rect x="986.49" y="1073" width="3.3" height="12" fill="#000" />
<rect x="1164.85" y="1073" width="3.3" height="12" fill="#000" />
<rect x="1343.21" y="1073" width="3.3" height="12" fill="#000" />
<rect x="362.23" y="1073" width="3.3" height="5" fill="#000" />
<rect x="540.59" y="1073" width="3.3" height="5" fill="#000" />
<rect x="718.95" y="1073" width="3.3" height="5" fill="#000" />
<rect x="897.31" y="1073" width="3.3" height="5" fill="#000" />
<rect x="1075.67" y="1073" width="3.3" height="5" fill="#000" />
<rect x="1254.03" y="1073" width="3.3" height="5" fill="#000" />
<rect x="1432.39" y="1073" width="3.3" height="5" fill="#000" />
</g>
<text transform="translate(230.33 1083.00) scale(1 1.0543)" font-size="38.6">0</text>
<text transform="translate(230.33 940.00) scale(1 1.0543)" font-size="38.6">1</text>
<text transform="translate(230.33 797.00) scale(1 1.0543)" font-size="38.6">2</text>
<text transform="translate(230.33 655.00) scale(1 1.0543)" font-size="38.6">3</text>
<text transform="translate(230.33 512.00) scale(1 1.0543)" font-size="38.6">4</text>
<text transform="translate(230.33 369.00) scale(1 1.0543)" font-size="38.6">5</text>
<text transform="translate(230.33 226.00) scale(1 1.0543)" font-size="38.6">6</text>
<text transform="translate(237.23 1124.00) scale(1 1.0543)" font-size="38.60">5.94</text>
<text transform="translate(415.81 1124.00) scale(1 1.0543)" font-size="38.60">5.95</text>
<text transform="translate(594.19 1124.00) scale(1 1.0543)" font-size="38.60">5.96</text>
<text transform="translate(772.65 1124.00) scale(1 1.0543)" font-size="38.60">5.97</text>
<text transform="translate(950.86 1124.00) scale(1 1.0543)" font-size="38.60">5.98</text>
<text transform="translate(1129.28 1124.00) scale(1 1.0543)" font-size="38.60">5.99</text>
<text transform="translate(1307.25 1124.00) scale(1 1.0543)" font-size="38.60">6.00</text>
<text transform="translate(1485.78 1124.00) scale(1 1.0543)" font-size="38.60">6.01</text>
<text transform="translate(805.51 1189.90)" font-size="43.55">Analytical</text>
<text transform="translate(212.90 664.00) rotate(-90) scale(1 1.0400)" font-size="43.25">Count</text>
<text transform="translate(881.17 193.70) scale(1 0.9900)" font-size="54.79" font-weight="bold">(b)</text>
<g shape-rendering="crispEdges">
<rect x="1184" y="156" width="75" height="37" fill="url(#gG)" />
<rect x="1184" y="156" width="75" height="37" fill="url(#pat)" shape-rendering="auto"/>
<rect x="1184.5" y="156.5" width="74" height="36" fill="none" stroke="#444444" stroke-width="1"/>
<rect x="1184" y="199" width="75" height="37" fill="url(#gC)" />
<rect x="1184" y="199" width="75" height="37" fill="url(#pat)" shape-rendering="auto"/>
<rect x="1184.5" y="199.5" width="74" height="36" fill="none" stroke="#444444" stroke-width="1"/>
</g>
<text transform="translate(1270.03 185.80)" font-size="34.67">Analytical</text>
<text transform="translate(1270.53 229.00)" font-size="34.66">Semi-analytical</text>
<g shape-rendering="crispEdges" fill="#000">
<rect x="343" y="1415" width="4" height="913" fill="#000" />
<rect x="343" y="2324" width="1131" height="4" fill="#000" />
</g>
<polyline fill="none" stroke="#000" stroke-width="1" shape-rendering="crispEdges" stroke-dasharray="17.5 13 3.5 13.5 3.5 15.3" points="425.0,2234.5 427.4,2234.5 429.8,2234.5 432.2,2234.5 434.7,2234.5 437.1,2234.5 439.5,2234.5 441.9,2234.5 444.3,2234.5 446.7,2234.5 449.2,2234.5 451.6,2234.5 454.0,2234.5 456.4,2234.5 458.8,2234.5 461.2,2234.5 463.7,2234.5 466.1,2234.5 468.5,2234.5 470.9,2234.5 473.3,2234.5 475.7,2234.5 478.1,2234.5 480.6,2234.5 483.0,2234.5 485.4,2234.5 487.8,2234.5 490.2,2234.5 492.6,2234.5 495.1,2234.5 497.5,2234.5 499.9,2234.5 502.3,2234.5 504.7,2234.5 507.1,2234.5 509.6,2234.5 512.0,2234.5 514.4,2234.4 516.8,2234.4 519.2,2234.4 521.6,2234.4 524.0,2234.4 526.5,2234.4 528.9,2234.4 531.3,2234.4 533.7,2234.4 536.1,2234.4 538.5,2234.4 541.0,2234.4 543.4,2234.3 545.8,2234.3 548.2,2234.3 550.6,2234.3 553.0,2234.3 555.5,2234.3 557.9,2234.2 560.3,2234.2 562.7,2234.2 565.1,2234.2 567.5,2234.2 569.9,2234.1 572.4,2234.1 574.8,2234.1 577.2,2234.1 579.6,2234.0 582.0,2234.0 584.4,2234.0 586.9,2233.9 589.3,2233.9 591.7,2233.9 594.1,2233.8 596.5,2233.8 598.9,2233.7 601.3,2233.7 603.8,2233.7 606.2,2233.6 608.6,2233.6 611.0,2233.5 613.4,2233.5 615.8,2233.4 618.3,2233.4 620.7,2233.3 623.1,2233.2 625.5,2233.2 627.9,2233.1 630.3,2233.0 632.8,2233.0 635.2,2232.9 637.6,2232.8 640.0,2232.7 642.4,2232.7 644.8,2232.6 647.2,2232.5 649.7,2232.4 652.1,2232.3 654.5,2232.2 656.9,2232.1 659.3,2232.0 661.7,2231.9 664.2,2231.8 666.6,2231.7 669.0,2231.6 671.4,2231.5 673.8,2231.3 676.2,2231.2 678.7,2231.1 681.1,2231.0 683.5,2230.8 685.9,2230.7 688.3,2230.5 690.7,2230.4 693.1,2230.2 695.6,2230.1 698.0,2229.9 700.4,2229.8 702.8,2229.6 705.2,2229.4 707.6,2229.2 710.1,2229.1 712.5,2228.9 714.9,2228.7 717.3,2228.5 719.7,2228.3 722.1,2228.1 724.6,2227.9 727.0,2227.7 729.4,2227.4 731.8,2227.2 734.2,2227.0 736.6,2226.7 739.0,2226.5 741.5,2226.2 743.9,2226.0 746.3,2225.7 748.7,2225.5 751.1,2225.2 753.5,2224.9 756.0,2224.6 758.4,2224.3 760.8,2224.0 763.2,2223.7 765.6,2223.4 768.0,2223.1 770.5,2222.8 772.9,2222.4 775.3,2222.1 777.7,2221.8 780.1,2221.4 782.5,2221.0 784.9,2220.7 787.4,2220.3 789.8,2219.9 792.2,2219.5 794.6,2219.1 797.0,2218.7 799.4,2218.3 801.9,2217.9 804.3,2217.5 806.7,2217.0 809.1,2216.6 811.5,2216.1 813.9,2215.7 816.4,2215.2 818.8,2214.7 821.2,2214.2 823.6,2213.7 826.0,2213.2 828.4,2212.7 830.8,2212.2 833.3,2211.6 835.7,2211.1 838.1,2210.5 840.5,2210.0 842.9,2209.4 845.3,2208.8 847.8,2208.2 850.2,2207.6 852.6,2207.0 855.0,2206.3 857.4,2205.7 859.8,2205.1 862.3,2204.4 864.7,2203.7 867.1,2203.0 869.5,2202.4 871.9,2201.6 874.3,2200.9 876.7,2200.2 879.2,2199.5 881.6,2198.7 884.0,2197.9 886.4,2197.2 888.8,2196.4 891.2,2195.6 893.7,2194.8 896.1,2193.9 898.5,2193.1 900.9,2192.3 903.3,2191.4 905.7,2190.5 908.1,2189.6 910.6,2188.7 913.0,2187.8 915.4,2186.9 917.8,2185.9 920.2,2185.0 922.6,2184.0 925.1,2183.0 927.5,2182.0 929.9,2181.0 932.3,2180.0 934.7,2178.9 937.1,2177.8 939.6,2176.8 942.0,2175.7 944.4,2174.6 946.8,2173.4 949.2,2172.3 951.6,2171.2 954.0,2170.0 956.5,2168.8 958.9,2167.6 961.3,2166.4 963.7,2165.1 966.1,2163.9 968.5,2162.6 971.0,2161.3 973.4,2160.0 975.8,2158.7 978.2,2157.4 980.6,2156.0 983.0,2154.6 985.5,2153.2 987.9,2151.8 990.3,2150.4 992.7,2149.0 995.1,2147.5 997.5,2146.0 999.9,2144.5 1002.4,2143.0 1004.8,2141.4 1007.2,2139.9 1009.6,2138.3 1012.0,2136.7 1014.4,2135.1 1016.9,2133.4 1019.3,2131.8 1021.7,2130.1 1024.1,2128.4 1026.5,2126.7 1028.9,2124.9 1031.4,2123.2 1033.8,2121.4 1036.2,2119.6 1038.6,2117.8 1041.0,2115.9 1043.4,2114.0 1045.8,2112.1 1048.3,2110.2 1050.7,2108.3 1053.1,2106.3 1055.5,2104.3 1057.9,2102.3 1060.3,2100.3 1062.8,2098.3 1065.2,2096.2 1067.6,2094.1 1070.0,2092.0 1072.4,2089.8 1074.8,2087.6 1077.3,2085.4 1079.7,2083.2 1082.1,2081.0 1084.5,2078.7 1086.9,2076.4 1089.3,2074.1 1091.7,2071.8 1094.2,2069.4 1096.6,2067.0 1099.0,2064.6 1101.4,2062.1 1103.8,2059.6 1106.2,2057.1 1108.7,2054.6 1111.1,2052.0 1113.5,2049.5 1115.9,2046.8 1118.3,2044.2 1120.7,2041.5 1123.2,2038.9 1125.6,2036.1 1128.0,2033.4 1130.4,2030.6 1132.8,2027.8 1135.2,2025.0 1137.6,2022.1 1140.1,2019.2 1142.5,2016.3 1144.9,2013.3 1147.3,2010.3 1149.7,2007.3 1152.1,2004.3 1154.6,2001.2 1157.0,1998.1 1159.4,1995.0 1161.8,1991.8 1164.2,1988.6 1166.6,1985.4 1169.1,1982.1 1171.5,1978.8 1173.9,1975.5 1176.3,1972.1 1178.7,1968.7 1181.1,1965.3 1183.5,1961.9 1186.0,1958.4 1188.4,1954.8 1190.8,1951.3 1193.2,1947.7 1195.6,1944.1 1198.0,1940.4 1200.5,1936.7 1202.9,1933.0 1205.3,1929.2 1207.7,1925.4 1210.1,1921.6 1212.5,1917.7 1215.0,1913.8 1217.4,1909.9 1219.8,1905.9 1222.2,1901.9 1224.6,1897.8 1227.0,1893.7 1229.4,1889.6 1231.9,1885.5 1234.3,1881.3 1236.7,1877.0 1239.1,1872.8 1241.5,1868.4 1243.9,1864.1 1246.4,1859.7 1248.8,1855.3 1251.2,1850.8 1253.6,1846.3 1256.0,1841.7 1258.4,1837.2 1260.8,1832.5 1263.3,1827.9 1265.7,1823.2 1268.1,1818.4 1270.5,1813.6 1272.9,1808.8 1275.3,1803.9 1277.8,1799.0 1280.2,1794.0 1282.6,1789.1 1285.0,1784.0 1287.4,1778.9 1289.8,1773.8 1292.3,1768.6 1294.7,1763.4 1297.1,1758.2 1299.5,1752.9 1301.9,1747.5 1304.3,1742.1 1306.7,1736.7 1309.2,1731.2 1311.6,1725.7 1314.0,1720.1 1316.4,1714.5 1318.8,1708.9 1321.2,1703.2 1323.7,1697.4 1326.1,1691.6 1328.5,1685.8 1330.9,1679.9 1333.3,1673.9 1335.7,1667.9 1338.2,1661.9 1340.6,1655.8 1343.0,1649.7 1345.4,1643.5 1347.8,1637.3 1350.2,1631.0 1352.6,1624.7 1355.1,1618.3 1357.5,1611.9 1359.9,1605.4 1362.3,1598.9 1364.7,1592.3 1367.1,1585.7 1369.6,1579.0 1372.0,1572.2 1374.4,1565.5 1376.8,1558.6 1379.2,1551.7 1381.6,1544.8 1384.1,1537.8 1386.5,1530.8 1388.9,1523.7 1391.3,1516.5"/>
<text transform="translate(175.48 1522.90) scale(1 1.0543)" font-size="38.6">2.0x10<tspan x="116.68" dy="-15.55" font-size="25.0">-9</tspan></text>
<text transform="translate(175.48 1704.60) scale(1 1.0543)" font-size="38.6">1.5x10<tspan x="116.68" dy="-15.55" font-size="25.0">-9</tspan></text>
<text transform="translate(175.48 1886.30) scale(1 1.0543)" font-size="38.6">1.0x10<tspan x="116.68" dy="-15.55" font-size="25.0">-9</tspan></text>
<text transform="translate(161.37 2067.90) scale(1 1.0543)" font-size="38.6">5.0x10<tspan x="116.68" dy="-15.55" font-size="25.0">-10</tspan></text>
<text transform="translate(261.05 2246.80) scale(1 1.0543)" font-size="38.60">0.0</text>
<text transform="translate(366.27 2385.70) scale(1 1.0543)" font-size="38.60">0.0000</text>
<text transform="translate(527.36 2385.70) scale(1 1.0543)" font-size="38.60">0.0005</text>
<text transform="translate(688.33 2385.70) scale(1 1.0543)" font-size="38.60">0.0010</text>
<text transform="translate(849.42 2385.70) scale(1 1.0543)" font-size="38.60">0.0015</text>
<text transform="translate(1010.39 2385.70) scale(1 1.0543)" font-size="38.60">0.0020</text>
<text transform="translate(1171.48 2385.70) scale(1 1.0543)" font-size="38.60">0.0025</text>
<text transform="translate(1332.45 2385.70) scale(1 1.0543)" font-size="38.60">0.0030</text>
<text transform="translate(1264.99 2283.90)" font-size="47.66">Value of Ʒ</text>
<text transform="translate(409.00 1717.89) rotate(-90)" font-size="47.23">Absolute Error</text>
<text transform="translate(914.85 1405.30) scale(1 0.9900)" font-size="55.23" font-weight="bold">(c)</text>
<line x1="1166" y1="1376.5" x2="1267" y2="1376.5" stroke="#000" stroke-width="1" shape-rendering="crispEdges" stroke-dasharray="17.5 13 3.5 13.5 3.5 15.3"/>
<text transform="translate(1283.11 1392.60)" font-size="47.39">Absolute Error</text>
</svg>
</body></html>
